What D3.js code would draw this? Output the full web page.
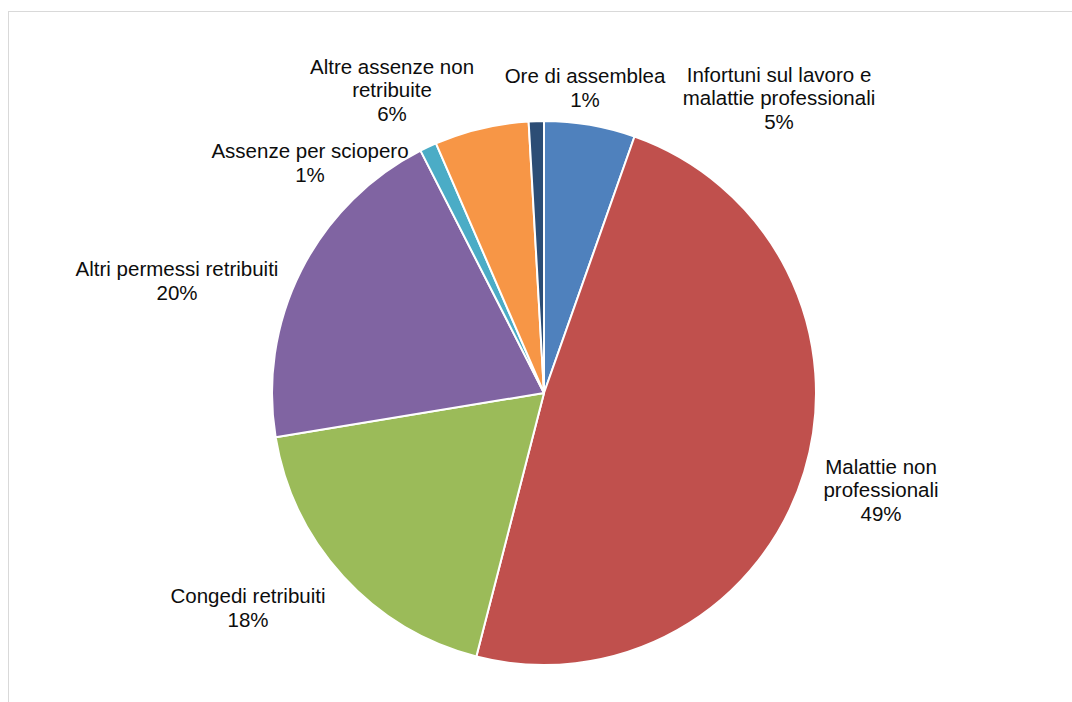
<!DOCTYPE html>
<html>
<head>
<meta charset="utf-8">
<script src="https://cdn.jsdelivr.net/npm/d3@7"></script>
<style>
  html, body { margin: 0; padding: 0; background: #fff; }
  svg { display: block; font-family: "Liberation Sans", Arial, sans-serif; }
</style>
</head>
<body>
<svg id="chart" width="1072" height="702"></svg>
<script>
// Categories of absence hours, clockwise from 12 o'clock
const categories = [
  "Infortuni sul lavoro e malattie professionali",
  "Malattie non professionali",
  "Congedi retribuiti",
  "Altri permessi retribuiti",
  "Assenze per sciopero",
  "Altre assenze non retribuite",
  "Ore di assemblea"
];

// Share of total absence hours (%)
const values = [5.4, 48.6, 18.4, 20.1, 1.0, 5.6, 0.9];

// Label text split into lines
const labelLines = [
  ["Infortuni sul lavoro e", "malattie professionali"],
  ["Malattie non", "professionali"],
  ["Congedi retribuiti"],
  ["Altri permessi retribuiti"],
  ["Assenze per sciopero"],
  ["Altre assenze non", "retribuite"],
  ["Ore di assemblea"]
];

const colors = ["#4F81BD", "#C0504D", "#9BBB59", "#8064A2", "#4BACC6", "#F79646", "#2C4D75"];

// Label block centres relative to the pie centre
const labelOffsets = [
  [235, -295], [337, 97], [-296, 215], [-367, -112], [-234, -230], [-152, -303], [41, -305]
];

const width = 1072, height = 702;
const cx = 544, cy = 393, radius = 272;
const fontSize = 20.5, lineHeight = 23.5;

const svg = d3.select("#chart");

// Chart area frame
svg.append("rect")
  .attr("x", 8.5).attr("y", 11.5)
  .attr("width", width + 20).attr("height", height + 20)
  .attr("fill", "#fff")
  .attr("stroke", "#d9d9d9")
  .attr("stroke-width", 1);

const data = categories.map((c, i) => ({ name: c, value: values[i], lines: labelLines[i], color: colors[i], off: labelOffsets[i] }));

const pie = d3.pie().sort(null).value(d => d.value);
const arc = d3.arc().innerRadius(0).outerRadius(radius);
const arcs = pie(data);
const total = d3.sum(values);

const g = svg.append("g").attr("transform", `translate(${cx},${cy})`);

g.selectAll("path.slice")
  .data(arcs)
  .join("path")
  .attr("class", "slice")
  .attr("d", arc)
  .attr("fill", d => d.data.color)
  .attr("stroke", "#fff")
  .attr("stroke-width", 2)
  .attr("stroke-linejoin", "round");

const fmt = v => Math.round(v / total * 100) + "%";

const labels = g.selectAll("text.label")
  .data(arcs)
  .join("text")
  .attr("class", "label")
  .attr("text-anchor", "middle")
  .attr("font-size", fontSize)
  .attr("fill", "#0d0d0d");

labels.each(function(d) {
  const lines = d.data.lines.concat([fmt(d.data.value)]);
  const n = lines.length;
  const [ox, oy] = d.data.off;
  const top = oy - (n - 1) * lineHeight / 2;
  d3.select(this).selectAll("tspan")
    .data(lines)
    .join("tspan")
    .attr("x", ox)
    .attr("y", (t, i) => top + i * lineHeight)
    .attr("dy", "0.35em")
    .text(t => t);
});
</script>
</body>
</html>
